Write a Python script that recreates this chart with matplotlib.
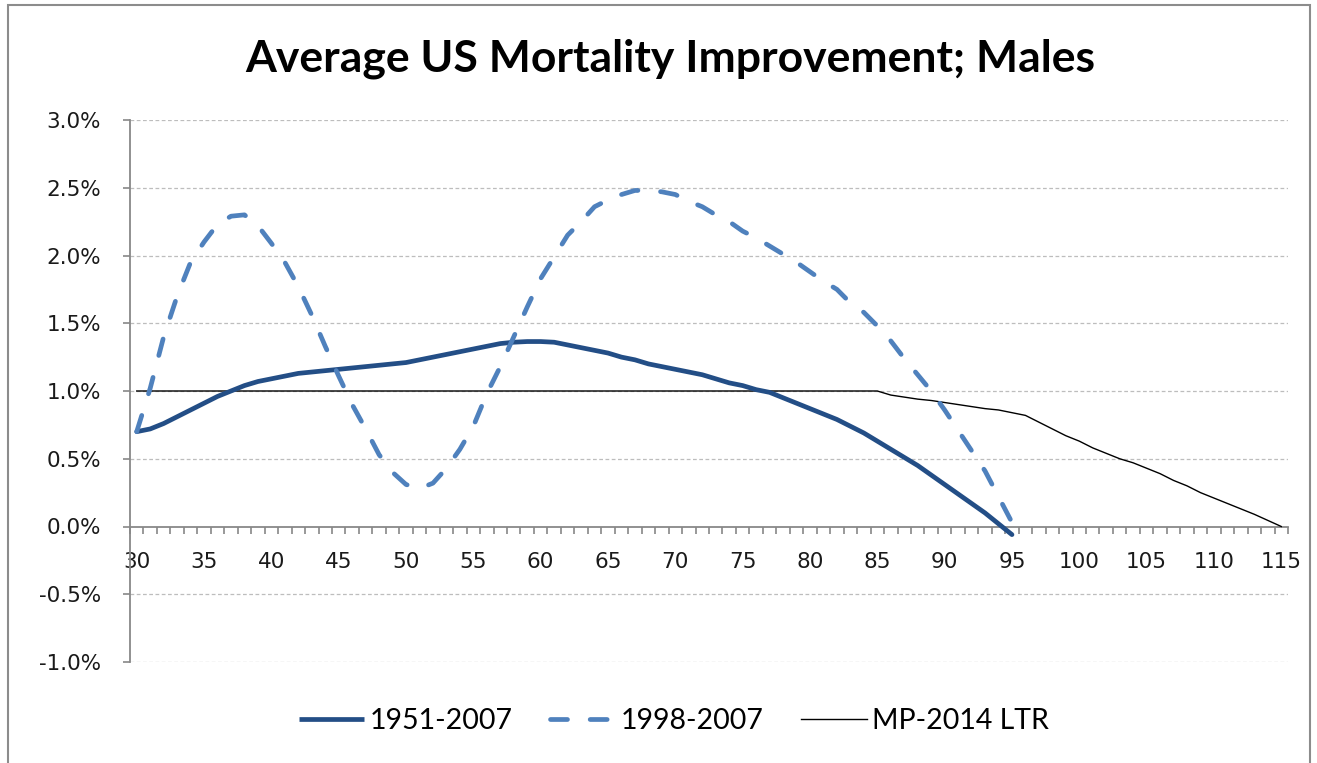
import matplotlib
matplotlib.use("Agg")
import matplotlib.pyplot as plt
from matplotlib.lines import Line2D
from matplotlib.patches import Rectangle
from matplotlib.ticker import FixedLocator, FuncFormatter

# ---------------- data ----------------
ages_hist = list(range(30, 96))          # ages 30..95
ages_ltr = list(range(30, 116))          # ages 30..115

imp_1951_2007 = [
    0.70, 0.72, 0.76, 0.81, 0.86, 0.91, 0.96, 1.00, 1.04, 1.07,
    1.09, 1.11, 1.13, 1.14, 1.15, 1.16, 1.17, 1.18, 1.19, 1.20,
    1.21, 1.23, 1.25, 1.27, 1.29, 1.31, 1.33, 1.35, 1.36, 1.365,
    1.365, 1.36, 1.34, 1.32, 1.30, 1.28, 1.25, 1.23, 1.20, 1.18,
    1.16, 1.14, 1.12, 1.09, 1.06, 1.04, 1.01, 0.99, 0.95, 0.91,
    0.87, 0.83, 0.79, 0.74, 0.69, 0.63, 0.57, 0.51, 0.45, 0.38,
    0.31, 0.24, 0.17, 0.10, 0.02, -0.06,
]

imp_1998_2007 = [
    0.70, 1.02, 1.40, 1.70, 1.95, 2.10, 2.23, 2.29, 2.30, 2.22,
    2.09, 1.95, 1.77, 1.56, 1.33, 1.11, 0.90, 0.72, 0.53, 0.40,
    0.31, 0.28, 0.32, 0.43, 0.57, 0.74, 0.98, 1.18, 1.40, 1.62,
    1.83, 1.99, 2.15, 2.25, 2.36, 2.41, 2.45, 2.48, 2.48, 2.47,
    2.45, 2.40, 2.36, 2.30, 2.25, 2.18, 2.13, 2.07, 2.01, 1.95,
    1.88, 1.81, 1.75, 1.65, 1.58, 1.48, 1.37, 1.24, 1.12, 1.00,
    0.86, 0.71, 0.56, 0.41, 0.22, 0.03,
]

imp_mp2014_ltr = [
    1.00, 1.00, 1.00, 1.00, 1.00, 1.00, 1.00, 1.00, 1.00, 1.00,
    1.00, 1.00, 1.00, 1.00, 1.00, 1.00, 1.00, 1.00, 1.00, 1.00,
    1.00, 1.00, 1.00, 1.00, 1.00, 1.00, 1.00, 1.00, 1.00, 1.00,
    1.00, 1.00, 1.00, 1.00, 1.00, 1.00, 1.00, 1.00, 1.00, 1.00,
    1.00, 1.00, 1.00, 1.00, 1.00, 1.00, 1.00, 1.00, 1.00, 1.00,
    1.00, 1.00, 1.00, 1.00, 1.00, 1.00, 0.97, 0.955, 0.94, 0.93,
    0.915, 0.90, 0.885, 0.87, 0.86, 0.84, 0.82, 0.77, 0.72, 0.67,
    0.63, 0.58, 0.54, 0.50, 0.47, 0.43, 0.39, 0.34, 0.30, 0.25,
    0.21, 0.17, 0.13, 0.09, 0.045, 0.00,
]

series_labels = ["1951-2007", "1998-2007", "MP-2014 LTR"]
y_ticks = [-1.0, -0.5, 0.0, 0.5, 1.0, 1.5, 2.0, 2.5, 3.0]
x_label_ticks = list(range(30, 116, 5))
title = "Average US Mortality Improvement; Males"

# ---------------- styling ----------------
W, H = 1317, 763
fig = plt.figure(figsize=(W / 100, H / 100), dpi=100)
fig.patch.set_facecolor("white")

ax = fig.add_axes([130 / W, (H - 662) / H, (1288 - 130) / W, (662 - 120) / H])
ax.set_facecolor("white")

dark_blue = "#234E86"
mid_blue = "#4F81BD"
axis_gray = "#888888"
grid_gray = "#BDBDBD"

# grid
for yv in y_ticks:
    if yv != 0.0:
        ax.axhline(yv, color=grid_gray, lw=0.9, ls=(0, (3, 2)), zorder=1)

ax.plot(ages_ltr, imp_mp2014_ltr, color="black", lw=1.0, zorder=3,
        label=series_labels[2])
ax.plot(ages_hist, imp_1951_2007, color=dark_blue, lw=3.4, zorder=4,
        solid_capstyle="round", solid_joinstyle="round", label=series_labels[0])
ax.plot(ages_hist, imp_1998_2007, color=mid_blue, lw=3.4, zorder=5,
        dashes=(3.6, 4.8), dash_capstyle="round", label=series_labels[1])

ax.set_xlim(29.5, 115.5)
ax.set_ylim(-1.0, 3.0)

# spines
for s in ["top", "right"]:
    ax.spines[s].set_visible(False)
ax.spines["left"].set_color(axis_gray)
ax.spines["left"].set_linewidth(1.3)
ax.spines["bottom"].set_color(axis_gray)
ax.spines["bottom"].set_linewidth(1.3)
ax.spines["bottom"].set_position(("data", 0.0))
ax.spines["left"].set_zorder(2)
ax.spines["bottom"].set_zorder(2)

# y ticks
ax.yaxis.set_major_locator(FixedLocator(y_ticks))
ax.yaxis.set_major_formatter(FuncFormatter(lambda v, p: f"{v:.1f}%"))
ax.tick_params(axis="y", which="major", direction="out", length=5,
               width=1.2, color=axis_gray, pad=16, labelsize=15.5,
               labelcolor="#1a1a1a")

# x ticks: labels at categories, tick marks between categories
ax.xaxis.set_major_locator(FixedLocator(x_label_ticks))
ax.xaxis.set_major_formatter(FuncFormatter(lambda v, p: f"{int(round(v))}"))
ax.xaxis.set_minor_locator(FixedLocator([a + 0.5 for a in range(29, 116)]))
ax.tick_params(axis="x", which="major", length=0, pad=18, labelsize=15.5,
               labelcolor="#1a1a1a")
ax.tick_params(axis="x", which="minor", direction="out", length=5,
               width=1.2, color=axis_gray)

for lab in ax.get_xticklabels() + ax.get_yticklabels():
    lab.set_fontfamily("DejaVu Sans")

# title
fig.text(670 / W, 1 - 59 / H, title, ha="center", va="center",
         fontsize=32, fontweight="bold", family=["Lato", "DejaVu Sans"],
         color="black")

# legend
handles = [
    Line2D([], [], color=dark_blue, lw=3.4, solid_capstyle="butt"),
    Line2D([], [], color=mid_blue, lw=3.4, dashes=(3.6, 4.8), dash_capstyle="round"),
    Line2D([], [], color="black", lw=1.0),
]
fig.legend(handles, series_labels, loc="center",
           bbox_to_anchor=(674 / W, 1 - 721 / H), ncol=3, frameon=False,
           prop={"family": ["Lato", "DejaVu Sans"], "size": 20.5},
           handlelength=2.3, handletextpad=0.2, columnspacing=1.3)

# chart border
fig.add_artist(Rectangle((8 / W, -0.05), (1310 - 8) / W, 1.05 - 5 / H,
                         transform=fig.transFigure, fill=False,
                         ec="#8C8C8C", lw=1.5))

fig.savefig("out.png", dpi=100, facecolor="white")
